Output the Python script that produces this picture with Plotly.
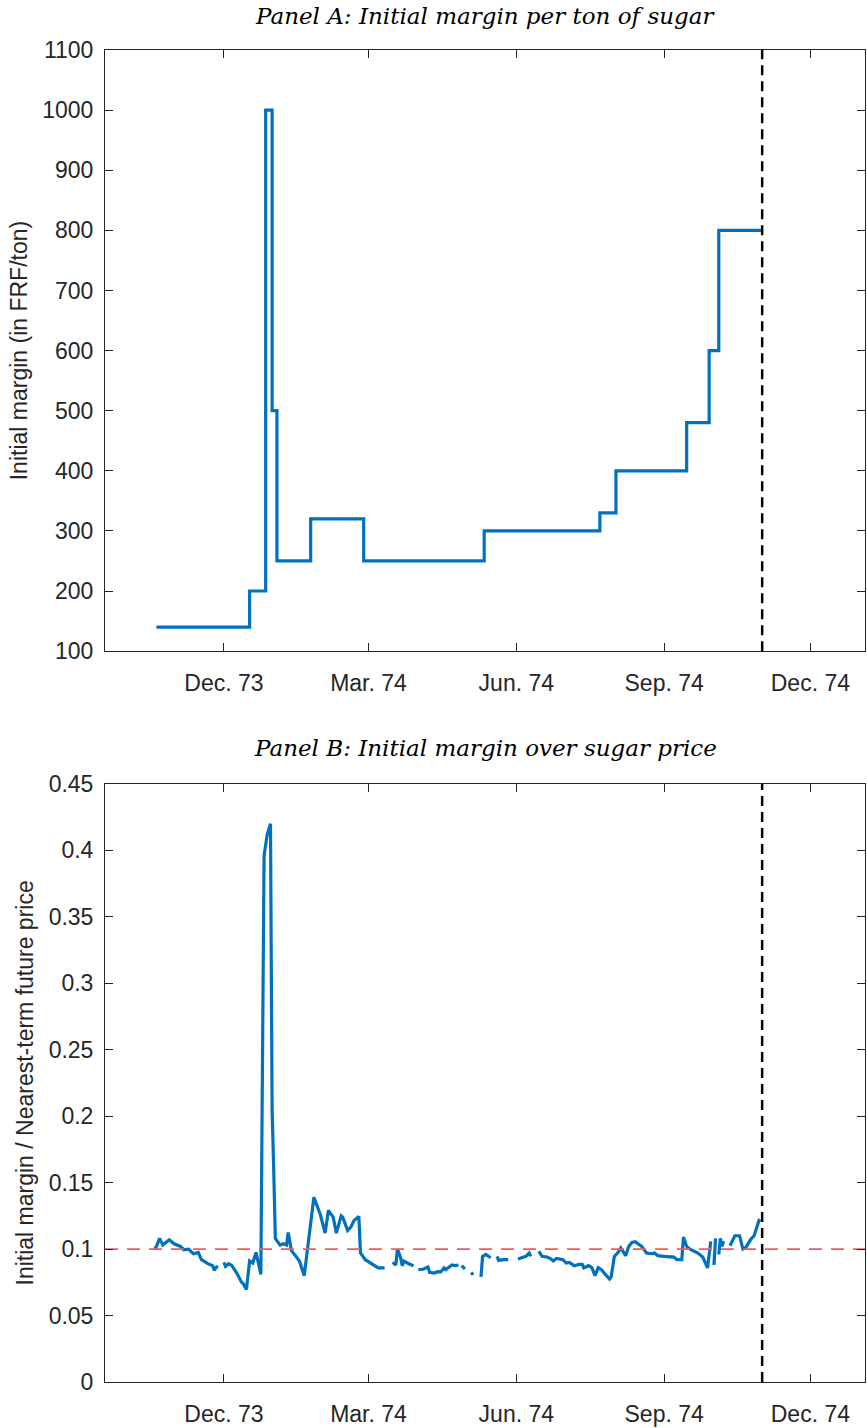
import plotly.graph_objects as go

# ---------------- Data ----------------
# Panel A: initial margin per ton (FRF/ton), step changes
a_dates = ["1973-10-20", "1973-12-17", "1973-12-27", "1973-12-31", "1974-01-03",
           "1974-01-24", "1974-02-26", "1974-05-12", "1974-07-23", "1974-08-02",
           "1974-09-15", "1974-09-29", "1974-10-05", "1974-11-01"]
a_vals = [140, 200, 1000, 500, 250, 320, 250, 300, 330, 400, 480, 600, 800, 800]

# Panel B: initial margin / nearest-term future price (None = missing)
b_dates = [
    "1973-10-19", "1973-10-20", "1973-10-22", "1973-10-24", "1973-10-28", "1973-10-31",
    "1973-11-04", "1973-11-06", "1973-11-09", "1973-11-12", "1973-11-15", "1973-11-17",
    "1973-11-21", "1973-11-24", "1973-11-25", "1973-11-27", None,
    "1973-12-01", "1973-12-02", "1973-12-04", "1973-12-06", "1973-12-09", "1973-12-12",
    "1973-12-13", "1973-12-15", "1973-12-17", "1973-12-19", "1973-12-21", "1973-12-22",
    "1973-12-24", "1973-12-26", "1973-12-28", "1973-12-30", "1973-12-31", "1974-01-01",
    "1974-01-02", "1974-01-05", "1974-01-07", "1974-01-09", "1974-01-10", "1974-01-12",
    "1974-01-15", "1974-01-17", "1974-01-20", "1974-01-23", "1974-01-26", "1974-01-30",
    "1974-02-02", "1974-02-04", "1974-02-07", "1974-02-09", "1974-02-12", "1974-02-13",
    "1974-02-16", "1974-02-18", "1974-02-20", "1974-02-23", "1974-02-24", "1974-02-27",
    "1974-03-03", "1974-03-07", "1974-03-11", None,
    "1974-03-16", "1974-03-18", "1974-03-19", "1974-03-21", "1974-03-22", "1974-03-23",
    "1974-03-26", "1974-03-29", None,
    "1974-04-01", "1974-04-04", "1974-04-07", "1974-04-08", "1974-04-11", "1974-04-13",
    "1974-04-15", "1974-04-17", "1974-04-18", "1974-04-22", "1974-04-24", "1974-04-26", None,
    "1974-04-28", "1974-04-30", None,
    "1974-05-04", "1974-05-05", None,
    "1974-05-10", "1974-05-11", "1974-05-13", "1974-05-16", None,
    "1974-05-20", "1974-05-21", "1974-05-24", "1974-05-27", None,
    "1974-06-02", "1974-06-05", "1974-06-07", "1974-06-09", "1974-06-10", None,
    "1974-06-15", "1974-06-17", "1974-06-20", "1974-06-22", "1974-06-24", "1974-06-26",
    "1974-06-30", "1974-07-02", "1974-07-04", "1974-07-07", "1974-07-10", "1974-07-12",
    "1974-07-13", "1974-07-16", "1974-07-18", "1974-07-20", "1974-07-22", "1974-07-24",
    "1974-07-26", "1974-07-29", "1974-07-30", "1974-08-01", "1974-08-03", "1974-08-05",
    "1974-08-06", "1974-08-08", "1974-08-10", "1974-08-12", "1974-08-14", "1974-08-18",
    "1974-08-21", "1974-08-24", "1974-08-26", "1974-08-28", "1974-09-01", "1974-09-07",
    "1974-09-09", "1974-09-12", "1974-09-13", "1974-09-15", "1974-09-17", "1974-09-20",
    "1974-09-22", "1974-09-25", "1974-09-28", "1974-09-30", None,
    "1974-10-02", "1974-10-03", None,
    "1974-10-05", "1974-10-06", "1974-10-07", "1974-10-08", None,
    "1974-10-12", "1974-10-15", "1974-10-18", "1974-10-20", "1974-10-22", "1974-10-25",
    "1974-10-27", "1974-10-29", "1974-10-30", "1974-10-31",
]
b_vals = [
    0.100, 0.102, 0.108, 0.103, 0.107, 0.104,
    0.102, 0.0995, 0.100, 0.0965, 0.0975, 0.092,
    0.089, 0.0875, 0.084, 0.0875, None,
    0.090, 0.087, 0.089, 0.0875, 0.082, 0.075,
    0.074, 0.0695, 0.091, 0.0895, 0.0975, 0.091,
    0.081, 0.396, 0.412, 0.420, 0.205, 0.160,
    0.108, 0.103, 0.104, 0.103, 0.1125, 0.099,
    0.0945, 0.091, 0.080, 0.111, 0.139, 0.126,
    0.112, 0.129, 0.124, 0.112, 0.125, 0.124,
    0.114, 0.1165, 0.1215, 0.1245, 0.097, 0.092,
    0.089, 0.0858, 0.0858, None,
    0.090, 0.088, 0.100, 0.0935, 0.0875, 0.091,
    0.089, 0.0875, None,
    0.0845, 0.0848, 0.0865, 0.0825, 0.082, 0.083,
    0.0828, 0.0858, 0.0845, 0.088, 0.0875, 0.088, None,
    0.0875, 0.085, None,
    0.0825, 0.0805, None,
    0.079, 0.0945, 0.096, 0.0935, None,
    0.0945, 0.0915, 0.092, 0.092, None,
    0.0925, 0.094, 0.0945, 0.097, 0.0945, None,
    0.0983, 0.0945, 0.094, 0.093, 0.091, 0.093,
    0.092, 0.0895, 0.090, 0.0875, 0.0885, 0.0885,
    0.0858, 0.0875, 0.086, 0.080, 0.086, 0.0845,
    0.0815, 0.0775, 0.079, 0.0945, 0.097, 0.1008,
    0.099, 0.095, 0.102, 0.105, 0.1055, 0.102,
    0.097, 0.0965, 0.097, 0.095, 0.0945, 0.094,
    0.092, 0.092, 0.109, 0.102, 0.100, 0.098,
    0.097, 0.094, 0.0858, 0.1058, None,
    0.088, 0.108, None,
    0.096, 0.108, 0.102, 0.106, None,
    0.1025, 0.110, 0.110, 0.100, 0.1015, 0.1075,
    0.110, 0.118, 0.1215, 0.121,
]

tick_dates = ["1973-12-01", "1974-03-01", "1974-06-01", "1974-09-01", "1974-12-01"]
tick_labels = ["Dec. 73", "Mar. 74", "Jun. 74", "Sep. 74", "Dec. 74"]
x_range = ["1973-09-18", "1975-01-04"]
event_date = "1974-11-01"
ref_ratio = 0.1

a_yticks = list(range(100, 1101, 100))
b_yticks = [0, 0.05, 0.1, 0.15, 0.2, 0.25, 0.3, 0.35, 0.4, 0.45]
b_yticklabels = ["0", "0.05", "0.1", "0.15", "0.2", "0.25", "0.3", "0.35", "0.4", "0.45"]

# ---------------- Figure ----------------
BLUE = "#0072BD"
AX = "#262626"
TICKFONT = dict(family="Liberation Sans, Arial, sans-serif", size=23, color=AX)
TITLEFONT = dict(family="DejaVu Serif, serif", size=23, color="#000000", style="italic")

fig = go.Figure()

fig.add_trace(go.Scatter(x=a_dates, y=a_vals, mode="lines", line=dict(color=BLUE, width=3.2, shape="hv"),
                         xaxis="x", yaxis="y", showlegend=False))
fig.add_trace(go.Scatter(x=[event_date, event_date], y=[100, 1100], mode="lines",
                         line=dict(color="black", width=2.5, dash="10px,6px"),
                         xaxis="x", yaxis="y", showlegend=False))

fig.add_trace(go.Scatter(x=b_dates, y=b_vals, mode="lines", line=dict(color=BLUE, width=3.2),
                         connectgaps=False, xaxis="x2", yaxis="y2", showlegend=False))
fig.add_trace(go.Scatter(x=x_range, y=[ref_ratio, ref_ratio], mode="lines",
                         line=dict(color="#F35B5B", width=1.8, dash="13px,9px"),
                         xaxis="x2", yaxis="y2", showlegend=False))
fig.add_trace(go.Scatter(x=[event_date, event_date], y=[0, 0.45], mode="lines",
                         line=dict(color="black", width=2.5, dash="10px,6px"),
                         xaxis="x2", yaxis="y2", showlegend=False))

common_x = dict(type="date", range=x_range, tickmode="array", tickvals=tick_dates, ticktext=tick_labels,
                ticks="inside", ticklen=8, tickwidth=1, tickcolor=AX, showline=True, linecolor=AX,
                linewidth=1, mirror="ticks", showgrid=False, zeroline=False, tickfont=TICKFONT,
                ticklabelstandoff=11)
common_y = dict(ticks="inside", ticklen=8, tickwidth=1, tickcolor=AX, showline=True, linecolor=AX,
                linewidth=1, mirror="ticks", showgrid=False, zeroline=False, tickfont=TICKFONT,
                ticklabelstandoff=6)

fig.update_layout(
    width=867, height=1428,
    margin=dict(l=105, r=1, t=50, b=37),
    paper_bgcolor="white", plot_bgcolor="white",
    xaxis=dict(**common_x, domain=[0, 1], anchor="y"),
    yaxis=dict(**common_y, domain=[0.5487, 1.0], anchor="x", range=[100, 1100],
               tickvals=a_yticks,
               title=dict(text="Initial margin (in FRF/ton)", font=TICKFONT, standoff=8)),
    xaxis2=dict(**common_x, domain=[0, 1], anchor="y2"),
    yaxis2=dict(**common_y, domain=[0, 0.4491], anchor="x2", range=[0, 0.45],
                tickvals=b_yticks, ticktext=b_yticklabels,
                title=dict(text="Initial margin / Nearest-term future price", font=TICKFONT, standoff=8)),
    annotations=[
        dict(text="Panel A: Initial margin per ton of sugar", x=0.5, y=1.0, xref="paper", yref="paper",
             yshift=34, showarrow=False, font=TITLEFONT, xanchor="center", yanchor="middle"),
        dict(text="Panel B: Initial margin over sugar price", x=0.5, y=0.4491, xref="paper", yref="paper",
             yshift=36, showarrow=False, font=TITLEFONT, xanchor="center", yanchor="middle"),
    ],
)

fig.write_html("out.html")
